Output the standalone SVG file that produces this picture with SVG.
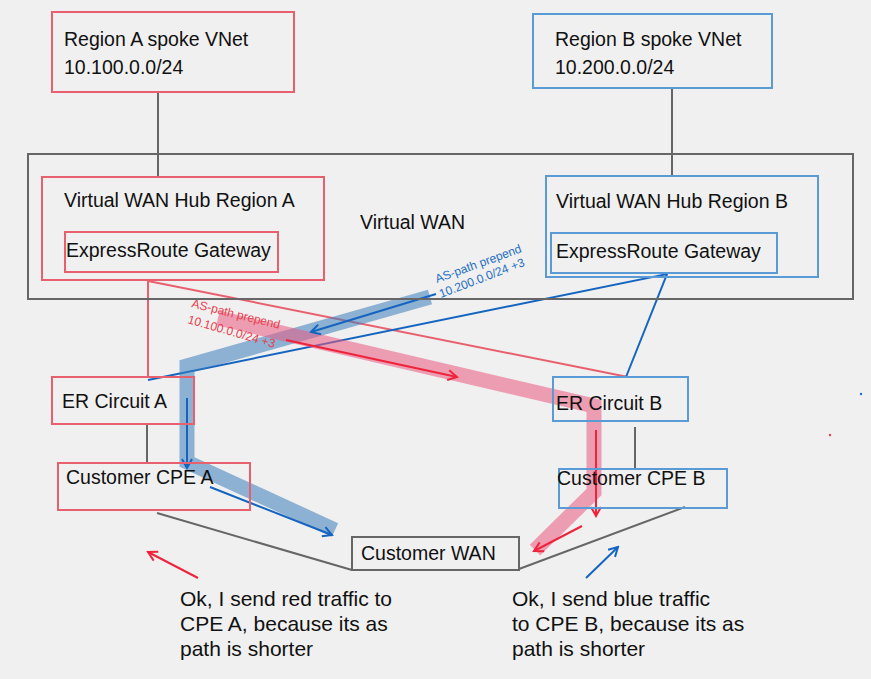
<svg xmlns="http://www.w3.org/2000/svg" width="871" height="679" viewBox="0 0 871 679">
<defs>
<style>
.t{font-family:"Liberation Sans",Arial,sans-serif;font-size:19.5px;fill:#111}
.bt{font-family:"Liberation Sans",Arial,sans-serif;font-size:21px;fill:#111}
.r{fill:none;stroke:#e8606e;stroke-width:2}
.b{fill:none;stroke:#5b9bd5;stroke-width:2}
.g{fill:none;stroke:#666;stroke-width:2}
.gl{fill:none;stroke:#666;stroke-width:2}
.lbl{font-family:"Liberation Sans",Arial,sans-serif;font-size:12px}
</style>
<marker id="ab" viewBox="0 0 12 12" refX="10" refY="6" markerWidth="12" markerHeight="12" markerUnits="userSpaceOnUse" orient="auto"><path d="M1,1 L10,6 L1,11" fill="none" stroke="#1565c0" stroke-width="2"/></marker>
<marker id="ar" viewBox="0 0 12 12" refX="10" refY="6" markerWidth="12" markerHeight="12" markerUnits="userSpaceOnUse" orient="auto"><path d="M1,1 L10,6 L1,11" fill="none" stroke="#ef233c" stroke-width="2"/></marker>
</defs>
<rect width="871" height="679" fill="#f0f0f0"/>

<g id="connectors">
<line x1="158" y1="92" x2="158" y2="178" class="gl"/>
<line x1="672" y1="88" x2="672" y2="177" class="gl"/>
<line x1="147" y1="424" x2="147" y2="463" class="gl"/>
<line x1="635" y1="427" x2="635" y2="470" class="gl"/>
<line x1="157" y1="513" x2="352" y2="570" class="gl"/>
<line x1="685" y1="507" x2="519" y2="569" class="gl"/>
<polyline points="148,377 148,281 628,377" fill="none" stroke="#e8606e" stroke-width="2"/>
<polyline points="148,380 667,274 626,377" fill="none" stroke="#1565c0" stroke-width="2"/>
<polyline points="430,297 187,366 187,462 335,530" fill="none" stroke="#3a7ebb" stroke-opacity="0.55" stroke-width="15"/>
<polyline points="218,318 594,406 594,492 535,550" fill="none" stroke="#ea5a80" stroke-opacity="0.55" stroke-width="15"/>
<line x1="436" y1="294" x2="311" y2="332" stroke="#1565c0" stroke-width="2" marker-end="url(#ab)"/>
<line x1="187" y1="398" x2="187" y2="468" stroke="#1565c0" stroke-width="2" marker-end="url(#ab)"/>
<line x1="210" y1="487" x2="332" y2="535" stroke="#1565c0" stroke-width="2" marker-end="url(#ab)"/>
<line x1="286" y1="340" x2="457" y2="377" stroke="#ef233c" stroke-width="2" marker-end="url(#ar)"/>
<line x1="596" y1="430" x2="596" y2="516" stroke="#ef233c" stroke-width="2" marker-end="url(#ar)"/>
<line x1="582" y1="526" x2="534" y2="551" stroke="#ef233c" stroke-width="2" marker-end="url(#ar)"/>
<line x1="198" y1="578" x2="148" y2="552" stroke="#ef233c" stroke-width="2" marker-end="url(#ar)"/>
<line x1="586" y1="578" x2="618" y2="547" stroke="#1565c0" stroke-width="2" marker-end="url(#ab)"/>
</g>

<g id="region-a-vnet"><rect x="52" y="12" width="242" height="80" class="r"/><text class="t" x="64" y="46">Region A spoke VNet</text><text class="t" x="64" y="74">10.100.0.0/24</text></g>
<g id="region-b-vnet"><rect x="533" y="14" width="239" height="74" class="b"/><text class="t" x="555" y="46">Region B spoke VNet</text><text class="t" x="555" y="74">10.200.0.0/24</text></g>
<g id="virtual-wan"><rect x="28" y="154" width="825" height="145" class="g"/><text class="t" x="360" y="229">Virtual WAN</text></g>
<g id="hub-a"><rect x="42" y="177" width="282" height="103" class="r"/><text class="t" x="64" y="207">Virtual WAN Hub Region A</text></g>
<g id="ergw-a"><rect x="65" y="232" width="213" height="40" class="r"/><text class="t" x="66" y="257">ExpressRoute Gateway</text></g>
<g id="hub-b"><rect x="546" y="176" width="272" height="101" class="b"/><text class="t" x="556" y="208">Virtual WAN Hub Region B</text></g>
<g id="ergw-b"><rect x="551" y="233" width="226" height="40" class="b" stroke-width="3"/><text class="t" x="556" y="258">ExpressRoute Gateway</text></g>
<g id="er-a"><rect x="52" y="377" width="142" height="47" class="r"/><text class="t" x="62" y="408">ER Circuit A</text></g>
<g id="er-b"><rect x="553" y="377" width="135" height="44" class="b"/><text class="t" x="556" y="410">ER Circuit B</text></g>
<g id="cpe-a"><rect x="58" y="463" width="192" height="47" class="r"/><text class="t" x="66" y="484">Customer CPE A</text></g>
<g id="cpe-b"><rect x="559" y="469" width="168" height="39" class="b"/><text class="t" x="557" y="485">Customer CPE B</text></g>
<g id="customer-wan"><rect x="352" y="537" width="167" height="33" class="g"/><text class="t" x="361" y="560">Customer WAN</text></g>

<g id="labels">
<text class="lbl" fill="#e8404f" transform="translate(191,307) rotate(14)">AS-path prepend</text>
<text class="lbl" fill="#e8404f" transform="translate(187,323) rotate(16)">10.100.0.0/24 +3</text>
<text class="lbl" fill="#1f6fc4" transform="translate(437,283) rotate(-20)">AS-path prepend</text>
<text class="lbl" fill="#1f6fc4" transform="translate(441,298) rotate(-21)">10.200.0.0/24 +3</text>
<text class="bt" x="180" y="606">Ok, I send red traffic to</text>
<text class="bt" x="180" y="631">CPE A, because its as</text>
<text class="bt" x="180" y="656">path is shorter</text>
<text class="bt" x="512" y="606">Ok, I send blue traffic</text>
<text class="bt" x="512" y="631">to CPE B, because its as</text>
<text class="bt" x="512" y="656">path is shorter</text>
</g>
<circle cx="861" cy="394" r="1.2" fill="#1f6fc4"/>
<circle cx="830" cy="435" r="1.2" fill="#e8404f"/>
</svg>
